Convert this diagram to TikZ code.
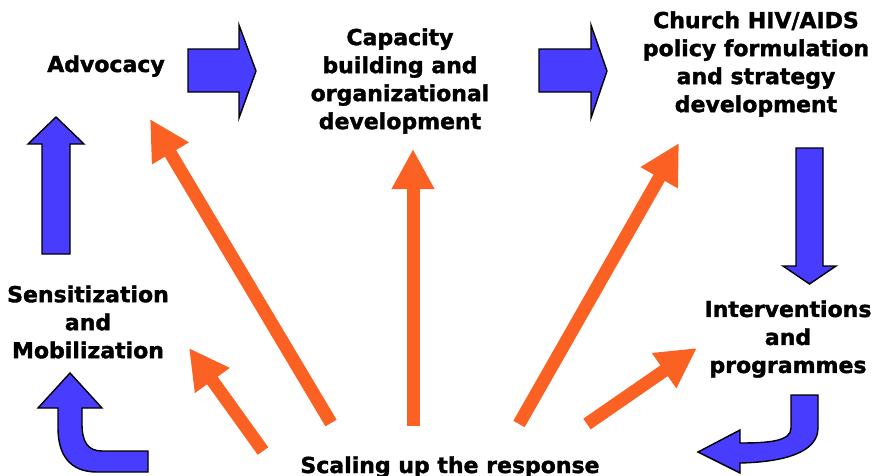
\documentclass[tikz,border=0pt]{standalone}
\usepackage{fontspec}
\setmainfont{DejaVu Sans}[BoldFeatures={FakeBold=1.6}]
\usetikzlibrary{arrows.meta}
\definecolor{bluefill}{RGB}{72,60,255}
\definecolor{orangeline}{RGB}{250,97,35}
\tikzset{
  lbl/.style={font=\bfseries\fontsize{22}{28}\selectfont, align=center, inner sep=0pt, text=black},
  bluearrow/.style={fill=bluefill, draw=black, line width=1.4pt, line join=miter},
  orangearrow/.style={draw=orangeline, line width=13pt, -{Triangle[length=40pt,width=40pt]}}
}
\begin{document}
\begin{tikzpicture}[x=1pt,y=-1pt]
\useasboundingbox (0,0) rectangle (881,475);
% labels
\node[lbl, anchor=base] (adv) at (106,72) {Advocacy};
\node[lbl] (cap) at (400,81) {Capacity\\building and\\organizational\\development};
\node[lbl] (church) at (756,64) {Church HIV/AIDS\\policy formulation\\and strategy\\development};
\node[lbl] (sens) at (88,322) {Sensitization\\and\\Mobilization};
\node[lbl] (inter) at (788,339) {Interventions\\and\\programmes};
\node[lbl, anchor=base] (scal) at (450,473) {Scaling up the response};
% blue block arrows
\draw[bluearrow] (188,49) -- (239,49) -- (239,25) -- (256,71) -- (239,118) -- (239,92) -- (188,92) -- cycle;
\draw[bluearrow] (539,49) -- (591,49) -- (591,25) -- (607,71) -- (591,118) -- (591,92) -- (539,92) -- cycle;
\draw[bluearrow] (42,254) -- (42,144) -- (28,144) -- (56,117) -- (84,144) -- (70,144) -- (70,254) -- cycle;
\draw[bluearrow] (796,148) -- (823,148) -- (823,266) -- (836,266) -- (809.5,284) -- (783,266) -- (796,266) -- cycle;
\draw[bluearrow] (148,472) -- (97,472) .. controls (70,472) and (58,455) .. (58,428) -- (58,408) -- (38,408) -- (70,373) -- (102,408) -- (82,408) -- (82,424) .. controls (82,442) and (88,451) .. (102,451) -- (148,451) -- cycle;
\draw[bluearrow] (791,395) -- (818,395) -- (818,428) .. controls (818,452) and (785,462) .. (740,463) -- (740,473) -- (698,452) -- (740,430) -- (740,443) .. controls (770,443) and (791,441) .. (791,428) -- cycle;
% orange arrows
\coordinate (tA) at (331,423); \coordinate (hA) at (150,119);
\coordinate (tB) at (263,451); \coordinate (hB) at (189,348);
\coordinate (tC) at (413,426); \coordinate (hC) at (413,149);
\coordinate (tD) at (519,424); \coordinate (hD) at (679,143);
\coordinate (tE) at (587,424); \coordinate (hE) at (697,348);
\draw[orangearrow] (tA) -- (hA);
\draw[orangearrow] (tB) -- (hB);
\draw[orangearrow] (tC) -- (hC);
\draw[orangearrow] (tD) -- (hD);
\draw[orangearrow] (tE) -- (hE);
\end{tikzpicture}
\end{document}
